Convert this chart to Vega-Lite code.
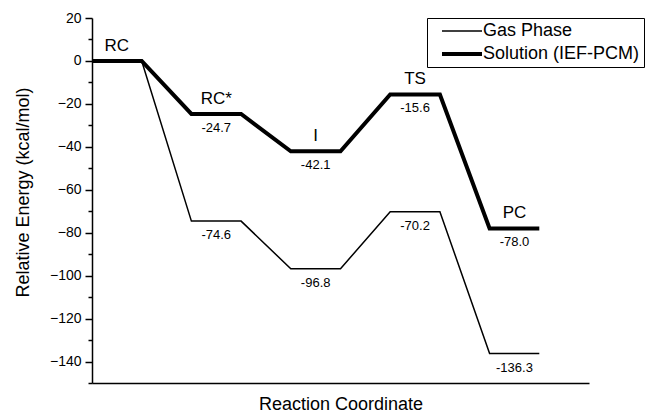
{
  "$schema": "https://vega.github.io/schema/vega-lite/v6.json",
  "width": 497,
  "height": 365,
  "autosize": {"type": "none"},
  "padding": {"left": 92, "top": 18, "right": 56, "bottom": 29},
  "background": "white",
  "config": {
    "font": "Liberation Sans",
    "view": {"stroke": null},
    "axis": {"domainColor": "black", "domainWidth": 1.5, "tickColor": "black", "tickWidth": 1.5, "labelColor": "black", "titleColor": "black", "titleFontWeight": "normal", "grid": false}
  },
  "datasets": {
    "lines": [
      {"series": "Gas Phase", "x": 0, "e": 0},
      {"series": "Gas Phase", "x": 1, "e": 0},
      {"series": "Gas Phase", "x": 2, "e": -74.6},
      {"series": "Gas Phase", "x": 3, "e": -74.6},
      {"series": "Gas Phase", "x": 4, "e": -96.8},
      {"series": "Gas Phase", "x": 5, "e": -96.8},
      {"series": "Gas Phase", "x": 6, "e": -70.2},
      {"series": "Gas Phase", "x": 7, "e": -70.2},
      {"series": "Gas Phase", "x": 8, "e": -136.3},
      {"series": "Gas Phase", "x": 9, "e": -136.3},
      {"series": "Solution (IEF-PCM)", "x": 0, "e": 0},
      {"series": "Solution (IEF-PCM)", "x": 1, "e": 0},
      {"series": "Solution (IEF-PCM)", "x": 2, "e": -24.7},
      {"series": "Solution (IEF-PCM)", "x": 3, "e": -24.7},
      {"series": "Solution (IEF-PCM)", "x": 4, "e": -42.1},
      {"series": "Solution (IEF-PCM)", "x": 5, "e": -42.1},
      {"series": "Solution (IEF-PCM)", "x": 6, "e": -15.6},
      {"series": "Solution (IEF-PCM)", "x": 7, "e": -15.6},
      {"series": "Solution (IEF-PCM)", "x": 8, "e": -78.0},
      {"series": "Solution (IEF-PCM)", "x": 9, "e": -78.0}
    ],
    "names": [
      {"name": "RC", "x": 0.5, "e": 0},
      {"name": "RC*", "x": 2.5, "e": -24.7},
      {"name": "I", "x": 4.5, "e": -42.1},
      {"name": "TS", "x": 6.5, "e": -15.6},
      {"name": "PC", "x": 8.5, "e": -78.0}
    ],
    "vals": [
      {"label": "-24.7", "x": 2.5, "e": -24.7},
      {"label": "-42.1", "x": 4.5, "e": -42.1},
      {"label": "-15.6", "x": 6.5, "e": -15.6},
      {"label": "-78.0", "x": 8.5, "e": -78.0},
      {"label": "-74.6", "x": 2.5, "e": -74.6},
      {"label": "-96.8", "x": 4.5, "e": -96.8},
      {"label": "-70.2", "x": 6.5, "e": -70.2},
      {"label": "-136.3", "x": 8.5, "e": -136.3}
    ]
  },
  "layer": [
    {
      "data": {"name": "lines"},
      "mark": {"type": "line", "color": "black", "strokeJoin": "miter"},
      "encoding": {
        "x": {"field": "x", "type": "quantitative", "scale": {"domain": [0, 10], "nice": false, "zero": false},
          "axis": {"title": "Reaction Coordinate", "titleFontSize": 18, "labels": false, "ticks": false, "titlePadding": 12}},
        "y": {"field": "e", "type": "quantitative", "scale": {"domain": [-150, 20], "nice": false, "zero": false},
          "axis": {"title": "Relative Energy (kcal/mol)", "titleFontSize": 18, "values": [-140, -120, -100, -80, -60, -40, -20, 0, 20], "tickSize": 7, "labelFontSize": 14, "labelPadding": 4, "titleX": -69, "titleY": 174, "titleBaseline": "middle"}},
        "detail": {"field": "series"},
        "strokeWidth": {"field": "series", "type": "nominal",
          "scale": {"domain": ["Gas Phase", "Solution (IEF-PCM)"], "range": [1.5, 4]},
          "legend": {"title": null, "orient": "none", "legendX": 335, "legendY": 0, "symbolType": "M-4,0H4", "symbolSize": 100, "symbolStrokeColor": "black", "symbolFillColor": "transparent", "labelFontSize": 18, "labelColor": "black", "strokeColor": "black", "padding": 4, "rowPadding": 5, "symbolOffset": 22, "labelOffset": 12, "fillColor": "white"}}
      }
    },
    {
      "data": {"name": "names"},
      "mark": {"type": "text", "fontSize": 17, "dy": -15, "color": "black", "baseline": "middle"},
      "encoding": {
        "x": {"field": "x", "type": "quantitative"},
        "y": {"field": "e", "type": "quantitative",
          "axis": {"orient": "left", "title": null, "labels": false, "domain": false, "tickSize": 4, "values": [-150, -130, -110, -90, -70, -50, -30, -10, 10]}},
        "text": {"field": "name"}
      }
    },
    {
      "data": {"name": "vals"},
      "mark": {"type": "text", "fontSize": 13, "dy": 14, "color": "black", "baseline": "middle"},
      "encoding": {
        "x": {"field": "x", "type": "quantitative"},
        "y": {"field": "e", "type": "quantitative", "axis": null},
        "text": {"field": "label"}
      }
    }
  ],
  "resolve": {"axis": {"y": "independent"}}
}
